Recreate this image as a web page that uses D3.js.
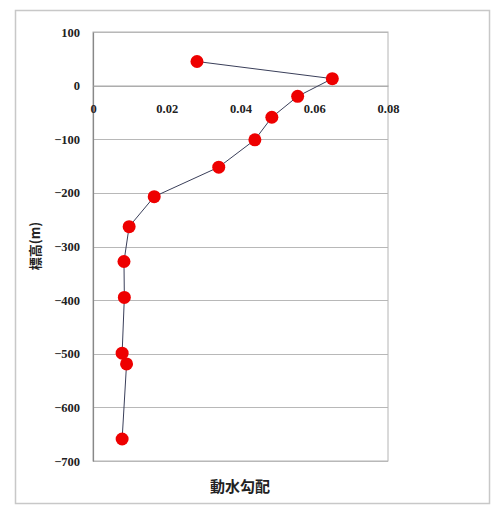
<!DOCTYPE html>
<html>
<head>
<meta charset="utf-8">
<script src="https://cdn.jsdelivr.net/npm/d3@7"></script>
<style>
  html, body { margin: 0; padding: 0; background: #fff; }
  svg { display: block; }
</style>
</head>
<body>
<script>
// Hydraulic gradient vs. elevation profile
const gradient = [0.0282, 0.0649, 0.0555, 0.0485, 0.0439, 0.0341, 0.0166, 0.0098, 0.0084, 0.0085, 0.0079, 0.0091, 0.0079];
const elevation = [45, 13, -20, -59, -101, -152, -207, -263, -328, -395, -499, -519, -659];
const xTicks = [0, 0.02, 0.04, 0.06, 0.08];
const yTicks = [100, 0, -100, -200, -300, -400, -500, -600, -700];
const xTitle = "動水勾配";
const yTitle = "標高(m)";

const W = 499, H = 507;
const plot = { left: 93, right: 388, top: 32, bottom: 461 };

const svg = d3.select("body").append("svg").attr("width", W).attr("height", H);

// chart frame
svg.append("rect")
  .attr("x", 15.5).attr("y", 10.5).attr("width", 474).attr("height", 493)
  .attr("fill", "#fff").attr("stroke", "#c8c8c8").attr("stroke-width", 1.5);

const x = d3.scaleLinear().domain([0, 0.08]).range([plot.left, plot.right]);
const y = d3.scaleLinear().domain([-700, 100]).range([plot.bottom, plot.top]);

// plot area border
svg.append("rect")
  .attr("x", plot.left).attr("y", plot.top)
  .attr("width", plot.right - plot.left).attr("height", plot.bottom - plot.top)
  .attr("fill", "none").attr("stroke", "#b4b4b4").attr("stroke-width", 1);

// horizontal gridlines
svg.append("g")
  .selectAll("line")
  .data(yTicks)
  .join("line")
  .attr("x1", plot.left).attr("x2", plot.right)
  .attr("y1", d => Math.round(y(d)) + 0.5).attr("y2", d => Math.round(y(d)) + 0.5)
  .attr("stroke", "#b8b8b8").attr("stroke-width", 1.2);

const tickFont = "'Liberation Serif', 'Times New Roman', serif";

// y axis
const yAxis = svg.append("g")
  .attr("transform", `translate(${plot.left},0)`)
  .call(d3.axisLeft(y).tickValues(yTicks).tickSize(0).tickPadding(13).tickFormat(d3.format("d")));
yAxis.select(".domain").attr("stroke", "#888").attr("stroke-width", 1.2);
yAxis.selectAll("text")
  .style("font-family", tickFont)
  .style("font-weight", "bold").style("font-size", "12.5px").attr("fill", "#222");

// x axis crossing at elevation 0, labels sitting below it
const xAxis = svg.append("g")
  .attr("transform", `translate(0,${y(0)})`)
  .call(d3.axisBottom(x).tickValues(xTicks).tickSize(0).tickPadding(18)
    .tickFormat(d => d === 0 ? "0" : d3.format(".2f")(d)));
xAxis.select(".domain").attr("stroke", "#aaa").attr("stroke-width", 1.2);
xAxis.selectAll("text")
  .style("font-family", tickFont)
  .style("font-weight", "bold").style("font-size", "12.5px").attr("fill", "#222");

// profile line
const pts = gradient.map((g, i) => [g, elevation[i]]);
svg.append("path")
  .datum(pts)
  .attr("fill", "none")
  .attr("stroke", "#3a3f5a").attr("stroke-width", 1)
  .attr("d", d3.line().x(d => x(d[0])).y(d => y(d[1])));

// markers
svg.append("g")
  .selectAll("circle")
  .data(pts)
  .join("circle")
  .attr("cx", d => x(d[0])).attr("cy", d => y(d[1]))
  .attr("r", 6.5)
  .attr("fill", "#ee0000");

// axis titles
svg.append("text")
  .attr("x", 240).attr("y", 492)
  .attr("text-anchor", "middle")
  .style("font-family", "'Noto Sans CJK JP', sans-serif")
  .style("font-weight", "bold").style("font-size", "15px").attr("fill", "#222")
  .text(xTitle);

svg.append("text")
  .attr("transform", `translate(40,246) rotate(-90)`)
  .attr("text-anchor", "middle")
  .style("font-family", "'Noto Sans CJK JP', sans-serif")
  .style("font-weight", "bold").style("font-size", "13px").attr("fill", "#222")
  .text(yTitle);
</script>
</body>
</html>
